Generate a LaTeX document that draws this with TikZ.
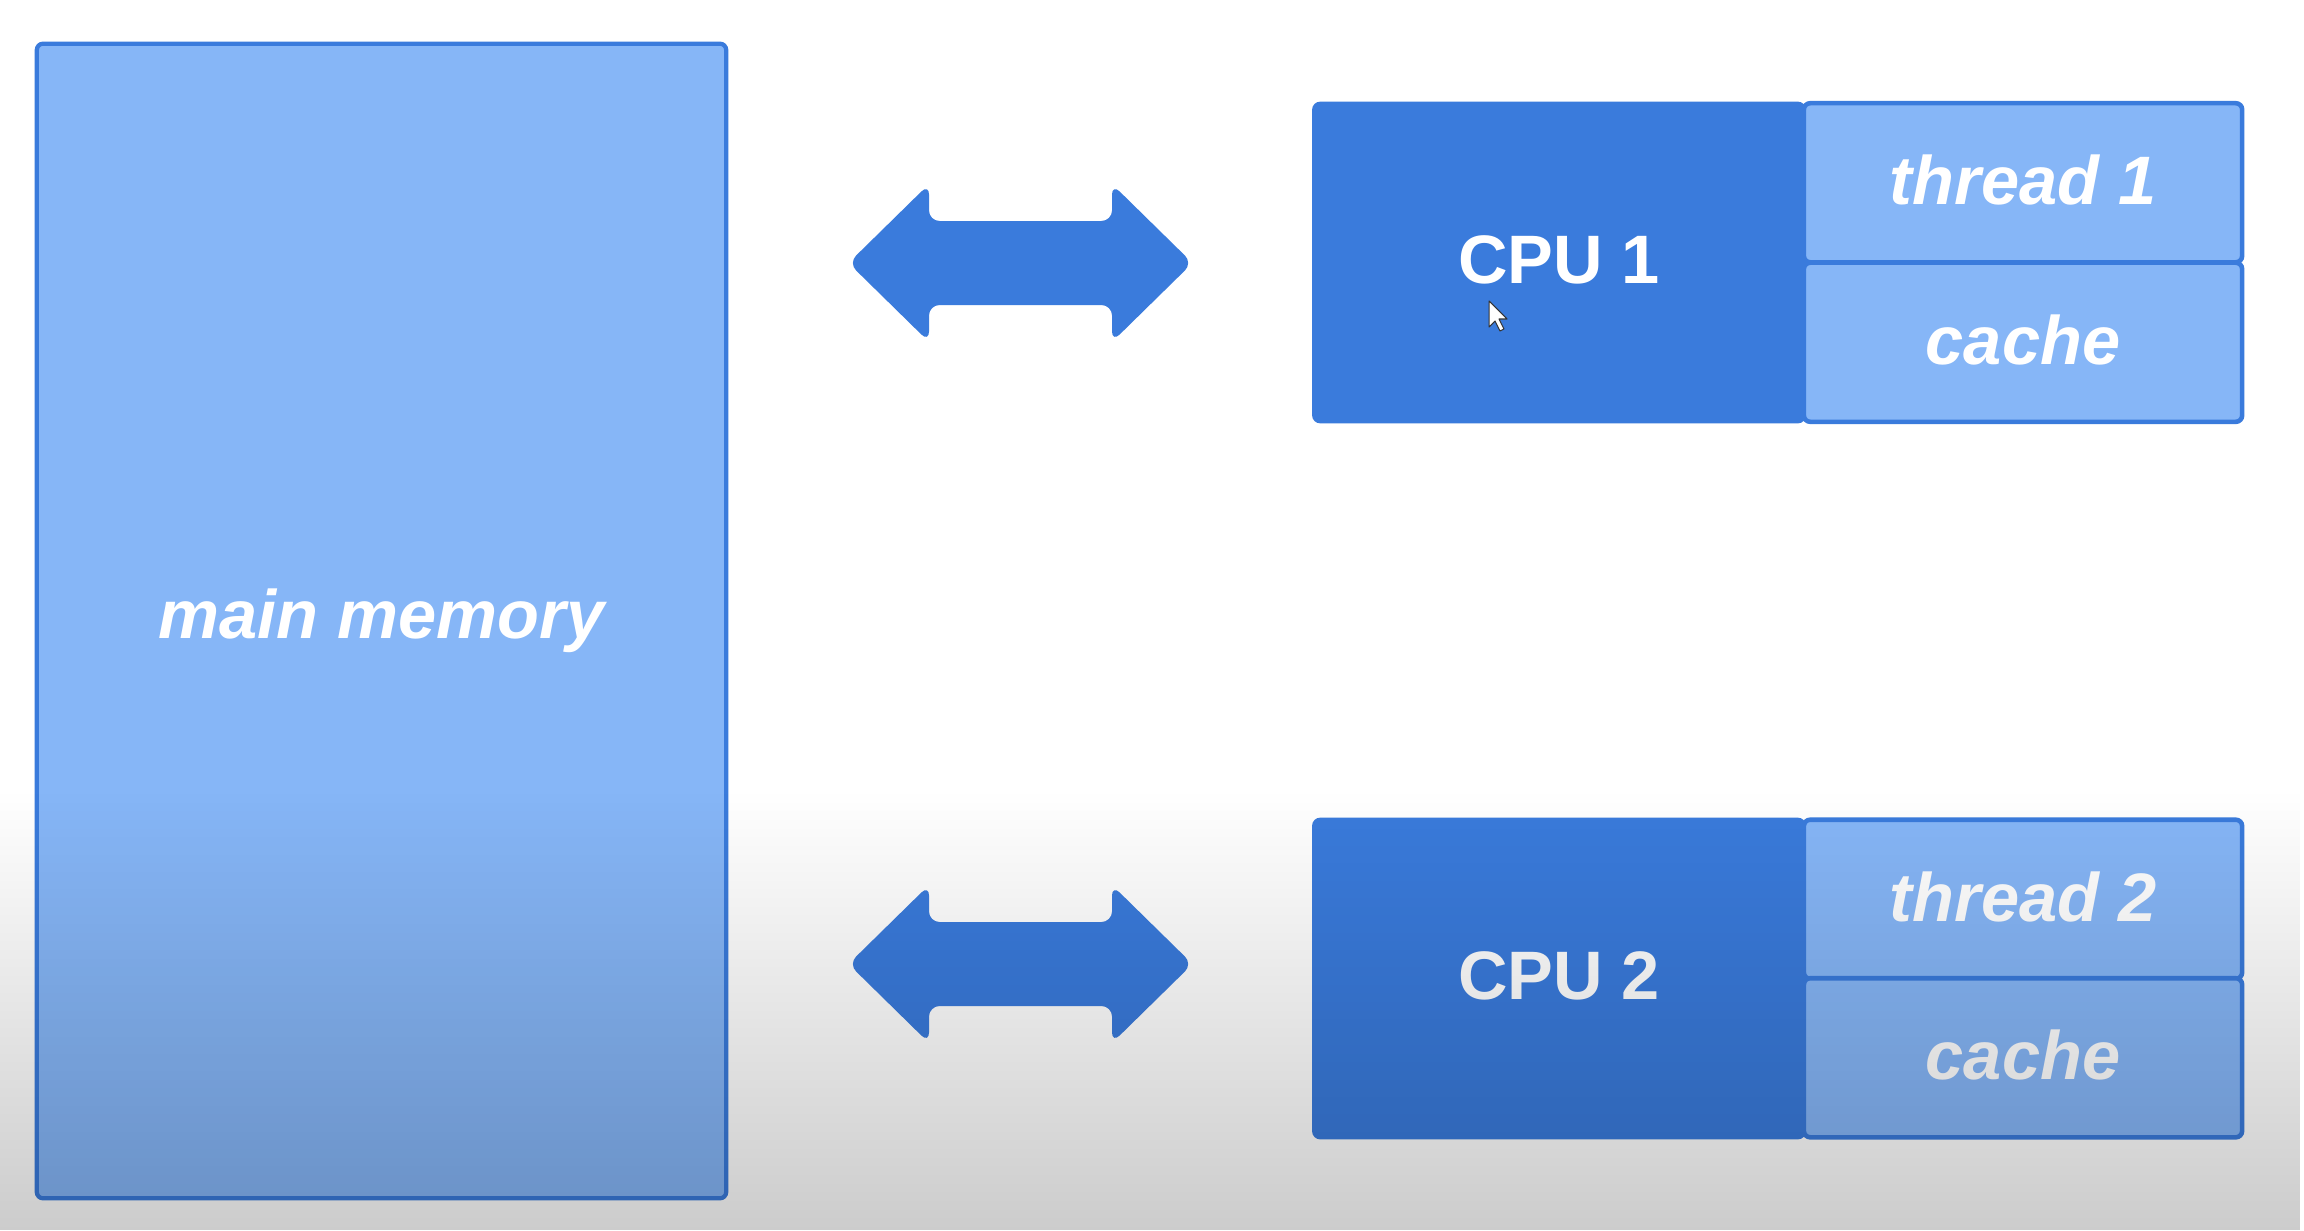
\documentclass[tikz,border=0pt]{standalone}
\usepackage{fontspec}
\setmainfont{Liberation Sans}
\usetikzlibrary{fadings}

\definecolor{corecol}{RGB}{58,123,220}
\definecolor{palecol}{RGB}{134,182,247}

\tikzfading[name=dimdown, top color=transparent!100, bottom color=transparent!0]

% box labels sit a touch above the geometric centre
\newcommand{\boxtext}[1]{\raisebox{1.6pt}{#1}}

\tikzset{
  label font/.style={font=\fontsize{19.5}{22}\selectfont\bfseries},
  membox/.style={draw=corecol, fill=palecol, line width=1.2pt, rounded corners=1.8pt,
    text=white, label font, inner sep=0pt},
  cpubox/.style={draw=corecol, fill=corecol, line width=1pt, rounded corners=1.8pt,
    text=white, label font, inner sep=0pt,
    minimum width=4.9cm, minimum height=3.18cm},
  slotbox/.style={draw=corecol, fill=palecol, line width=1.3pt, rounded corners=1.8pt,
    text=white, label font, inner sep=0pt,
    minimum width=4.38cm, minimum height=1.59cm},
  pics/duplex/.style={code={
    \fill[corecol, rounded corners=3pt]
      (-172,0) -- (-91.5,-79) -- (-91.5,-42) -- (91.5,-42) -- (91.5,-79)
      -- (172,0) -- (91.5,79) -- (91.5,42) -- (-91.5,42) -- (-91.5,79) -- cycle;
  }}
}

\begin{document}
\begin{tikzpicture}[x=0.01cm, y=-0.01cm]
  % canvas
  \fill[white] (0,0) rectangle (2304,1230);
  \useasboundingbox (0,0) rectangle (2304,1230);

  % shared memory
  \node[membox, minimum width=6.89cm, minimum height=11.54cm] (mem) at (381.5,621)
    {\itshape main memory};

  % first processor
  \node[cpubox] (cpu1) at (1559,262.5) {\boxtext{CPU 1}};
  \node[slotbox] (thr1) at (2023,182.75) {\boxtext{\itshape thread 1}};
  \node[slotbox] (cache1) at (2023,342.25) {\boxtext{\itshape cache}};

  % second processor
  \node[cpubox] (cpu2) at (1559,978.5) {\boxtext{CPU 2}};
  \node[slotbox] (thr2) at (2023,899.25) {\boxtext{\itshape thread 2}};
  \node[slotbox] (cache2) at (2023,1057.75) {\boxtext{\itshape cache}};

  % memory <-> processor links
  \pic at (1020.5,263) {duplex};
  \pic at (1020.5,964) {duplex};

  % pointer
  \filldraw[fill=white, draw=black!80, line width=0.3pt, line join=round]
    (1489,301) -- (1489,327) -- (1495,321) -- (1500,331) -- (1504,329)
    -- (1499,319) -- (1507,319) -- cycle;

  % dimming towards the lower edge
  \fill[black, opacity=0.2, path fading=dimdown] (0,790) rectangle (2304,1230);
\end{tikzpicture}
\end{document}
